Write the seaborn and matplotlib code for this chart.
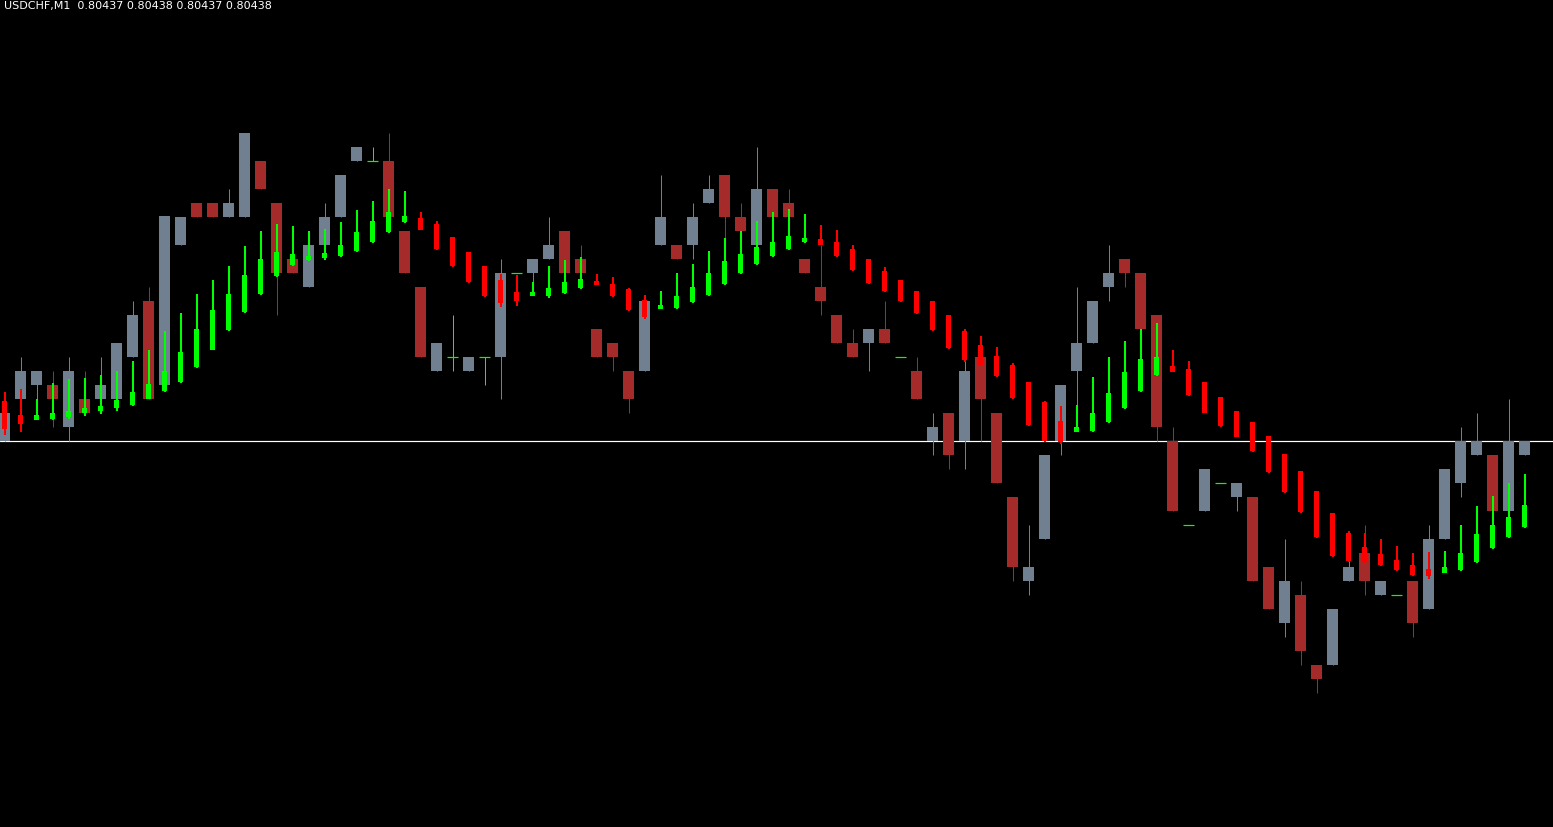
import numpy as np
import pandas as pd
import matplotlib
matplotlib.use("Agg")
import matplotlib.pyplot as plt
import seaborn as sns

# USDCHF M1 - price bars in points relative to 0.80438, plus the smoothed overlay candles
PIP = 0.00001
BASE = 0.80438
symbol_label = "USDCHF,M1  0.80437 0.80438 0.80437 0.80438"

bar_open = [0, 3, 4, 4, 1, 3, 3, 3, 6, 10,
            4, 14, 17, 17, 16, 16, 20, 17, 13, 11,
            14, 16, 20, 20, 20, 15, 11, 5, 6, 5,
            6, 6, 12, 12, 13, 15, 13, 8, 7, 5,
            5, 14, 14, 14, 17, 19, 16, 14, 18, 17,
            13, 11, 9, 7, 7, 8, 6, 5, 0, 2,
            0, 6, 2, -4, -10, -7, 0, 5, 7, 11,
            13, 12, 9, 0, -6, -5, -3, -4, -4, -9,
            -13, -11, -16, -16, -10, -8, -11, -11, -10, -12,
            -7, -3, -1, -1, -5, -1]
bar_high = [2, 6, 5, 5, 6, 5, 6, 7, 10, 11,
            16, 16, 17, 17, 18, 22, 20, 17, 13, 14,
            17, 19, 21, 21, 22, 15, 11, 7, 9, 6,
            6, 13, 12, 13, 16, 15, 14, 8, 7, 5,
            10, 19, 14, 17, 19, 19, 17, 21, 18, 18,
            13, 14, 9, 8, 8, 10, 6, 6, 2, 2,
            6, 6, 2, -4, -6, -1, 4, 11, 10, 14,
            13, 12, 9, 1, -6, -2, -3, -3, -4, -9,
            -7, -10, -16, -12, -8, -6, -10, -11, -10, -6,
            -2, 1, 2, -1, 3, 0]
bar_low = [0, 3, 2, 1, 0, 2, 3, 3, 6, 3,
           4, 14, 16, 16, 16, 16, 18, 9, 12, 11,
           14, 16, 20, 20, 16, 12, 6, 5, 5, 5,
           4, 3, 12, 11, 13, 12, 12, 6, 5, 2,
           5, 14, 13, 13, 17, 14, 15, 14, 16, 16,
           12, 9, 7, 6, 5, 7, 6, 3, -1, -2,
           -2, 0, -3, -10, -11, -7, -1, 1, 7, 10,
           11, 8, 0, -5, -6, -5, -3, -5, -10, -12,
           -14, -16, -18, -16, -10, -11, -11, -11, -14, -12,
           -7, -4, -1, -5, -5, -1]
bar_close = [2, 5, 5, 3, 5, 2, 4, 7, 9, 3,
             16, 16, 16, 16, 17, 22, 18, 12, 12, 14,
             16, 19, 21, 20, 16, 12, 6, 7, 6, 6,
             6, 12, 12, 13, 14, 12, 12, 6, 6, 3,
             10, 16, 13, 16, 18, 16, 15, 18, 16, 16,
             12, 10, 7, 6, 8, 7, 6, 3, 1, -1,
             5, 3, -3, -9, -9, -1, 4, 7, 10, 12,
             12, 8, 1, -5, -6, -2, -3, -3, -10, -12,
             -10, -15, -17, -12, -9, -10, -10, -11, -13, -7,
             -2, 0, 0, -5, 0, 0]

sig_open = [2.8, 1.8, 1.5, 1.57, 1.71, 1.95, 2.09, 2.31, 2.52, 3.0,
            3.52, 4.16, 5.24, 6.5, 7.88, 9.16, 10.45, 11.74, 12.52, 12.88,
            13.02, 13.16, 13.52, 14.16, 14.88, 15.59, 15.86, 15.5, 14.57, 13.5,
            12.43, 11.43, 10.64, 10.31, 10.31, 10.52, 10.88, 11.29, 11.21, 10.79,
            10.07, 9.38, 9.45, 9.88, 10.38, 11.16, 11.95, 12.59, 13.16, 13.66,
            14.16, 14.36, 14.21, 13.71, 12.93, 12.14, 11.43, 10.71, 9.93, 8.93,
            7.79, 6.79, 6.07, 5.36, 4.21, 2.74, 1.36, 0.64, 0.66, 1.31,
            2.31, 3.52, 4.66, 5.29, 5.14, 4.21, 3.14, 2.14, 1.29, 0.29,
            -0.93, -2.21, -3.64, -5.21, -6.64, -7.64, -8.14, -8.5, -8.86, -9.21,
            -9.48, -9.26, -8.69, -7.69, -6.91, -6.19]
sig_high = [3.5, 3.7, 3.0, 4.14, 4.36, 4.5, 4.71, 5.0, 5.71, 6.5,
            7.79, 9.14, 10.43, 11.5, 12.5, 13.86, 15.0, 15.43, 15.29, 15.0,
            15.14, 15.64, 16.43, 17.14, 17.93, 17.79, 16.29, 15.71, 14.57, 13.5,
            12.43, 11.86, 11.79, 11.29, 12.43, 12.86, 13.14, 11.86, 11.71, 10.86,
            10.36, 10.71, 11.93, 12.64, 13.57, 14.43, 15.0, 15.71, 16.29, 16.57,
            16.21, 15.36, 15.07, 13.93, 13.0, 12.36, 11.5, 10.71, 9.93, 8.93,
            7.93, 7.43, 6.71, 5.57, 4.21, 2.79, 2.43, 2.57, 4.57, 5.93,
            7.14, 8.0, 8.36, 6.43, 5.71, 4.21, 3.14, 2.14, 1.29, 0.29,
            -0.93, -2.21, -3.64, -5.21, -6.43, -6.59, -7.0, -7.57, -8.07, -7.93,
            -7.86, -6.0, -4.71, -3.93, -3.0, -2.36]
sig_low = [0.4, 0.6, 1.5, 1.5, 1.57, 1.74, 1.88, 2.09, 2.45, 3.0,
           3.45, 4.09, 5.16, 6.45, 7.81, 9.09, 10.38, 11.71, 12.45, 12.79,
           12.88, 13.09, 13.45, 14.09, 14.81, 15.52, 15.02, 13.59, 12.38, 11.24,
           10.24, 9.52, 9.59, 10.29, 10.16, 10.45, 10.81, 11.09, 10.24, 9.24,
           8.69, 9.38, 9.38, 9.81, 10.31, 11.09, 11.88, 12.52, 13.09, 13.59,
           14.09, 13.93, 13.09, 12.09, 11.16, 10.59, 9.88, 9.02, 7.81, 6.52,
           5.59, 5.31, 4.52, 2.95, 1.07, -0.09, -0.26, 0.64, 0.59, 1.24,
           2.24, 3.45, 4.59, 4.88, 3.16, 1.95, 1.0, 0.24, -0.8, -2.3,
           -3.72, -5.15, -6.95, -8.3, -8.69, -8.76, -8.98, -9.34, -9.69, -9.91,
           -9.48, -9.34, -8.76, -7.76, -6.98, -6.26]
sig_close = [0.8, 1.2, 1.7, 2.0, 2.14, 2.29, 2.5, 2.86, 3.5, 4.07,
             4.93, 6.29, 7.93, 9.29, 10.5, 11.79, 13.0, 13.43, 13.29, 13.16,
             13.36, 13.93, 14.86, 15.71, 16.29, 16.07, 15.02, 13.66, 12.45, 11.31,
             10.31, 9.81, 9.95, 10.38, 10.86, 11.29, 11.57, 11.09, 10.31, 9.31,
             8.81, 9.5, 10.29, 11.0, 11.93, 12.79, 13.29, 13.79, 14.21, 14.64,
             14.5, 13.93, 13.16, 12.16, 11.24, 10.66, 9.95, 9.09, 7.88, 6.59,
             5.74, 5.38, 4.59, 3.02, 1.09, -0.05, -0.12, 0.79, 1.93, 3.36,
             4.86, 5.79, 5.93, 4.88, 3.24, 1.98, 1.02, 0.26, -0.76, -2.26,
             -3.69, -5.12, -6.91, -8.26, -8.62, -8.69, -8.91, -9.26, -9.62, -9.69,
             -9.07, -8.0, -6.71, -6.0, -5.43, -4.64]

bars = pd.DataFrame({"open": bar_open, "high": bar_high, "low": bar_low, "close": bar_close})
sig = pd.DataFrame({"open": sig_open, "high": sig_high, "low": sig_low, "close": sig_close})
bars = BASE + bars * PIP
sig = BASE + sig * PIP
bars["x"] = np.arange(len(bars))
sig["x"] = np.arange(len(sig))

sns.set_theme(style="dark", rc={"axes.facecolor": "black", "figure.facecolor": "black"})
plt.rcParams["font.family"] = ["DejaVu Sans"]

W, H = 1553, 828
fig = plt.figure(figsize=(W / 100, H / 100), dpi=100)
ax = fig.add_axes([0, 0, 1, 1])
ax.set_facecolor("black")

UP, DOWN, DOJI = "#708090", "#A52A2A", "#00FF00"
px = 72 / 100  # one pixel in points

# current price line
ax.axhline(BASE, color="white", lw=1.2 * px, zorder=1)

# price candles
is_doji = bars["open"] == bars["close"]
is_up = bars["close"] > bars["open"]
wick_col = np.where(is_doji, DOJI, np.where(is_up, UP, DOWN))
ax.vlines(bars["x"], bars["low"], bars["high"], colors=wick_col, lw=px, zorder=2)
body = bars[~is_doji]
ax.bar(body["x"], (body["close"] - body["open"]).abs(),
       bottom=body[["open", "close"]].min(axis=1), width=11 / 16,
       color=np.where(body["close"] > body["open"], UP, DOWN), linewidth=0, zorder=3)
dj = bars[is_doji]
ax.hlines(dj["open"], dj["x"] - 5.5 / 16, dj["x"] + 5.5 / 16, colors=DOJI, lw=1.2 * px, zorder=3)

# overlay candles
sig_up = sig["close"] >= sig["open"]
sig_col = np.where(sig_up, "#00FF00", "#FF0000")
ax.vlines(sig["x"], sig["low"], sig["high"], colors=sig_col, lw=2 * px, zorder=4)
ax.bar(sig["x"], (sig["close"] - sig["open"]).abs().clip(lower=0.3 * PIP),
       bottom=sig[["open", "close"]].min(axis=1), width=5 / 16,
       color=sig_col, linewidth=0, zorder=5)

# pixel-matched view: bar i centred at 4.5 + 16*i px, 14 px per point, price line at y=441
x0 = -4.5 / 16
ax.set_xlim(x0, x0 + W / 16)
top = BASE + 441.5 / 14 * PIP
ax.set_ylim(top - H / 14 * PIP, top)
ax.set_axis_off()

fig.text(4 / W, 1 - 0.5 / H, symbol_label, color="white", fontsize=8, ha="left", va="top")

fig.savefig("out.png", dpi=100, facecolor="black")
